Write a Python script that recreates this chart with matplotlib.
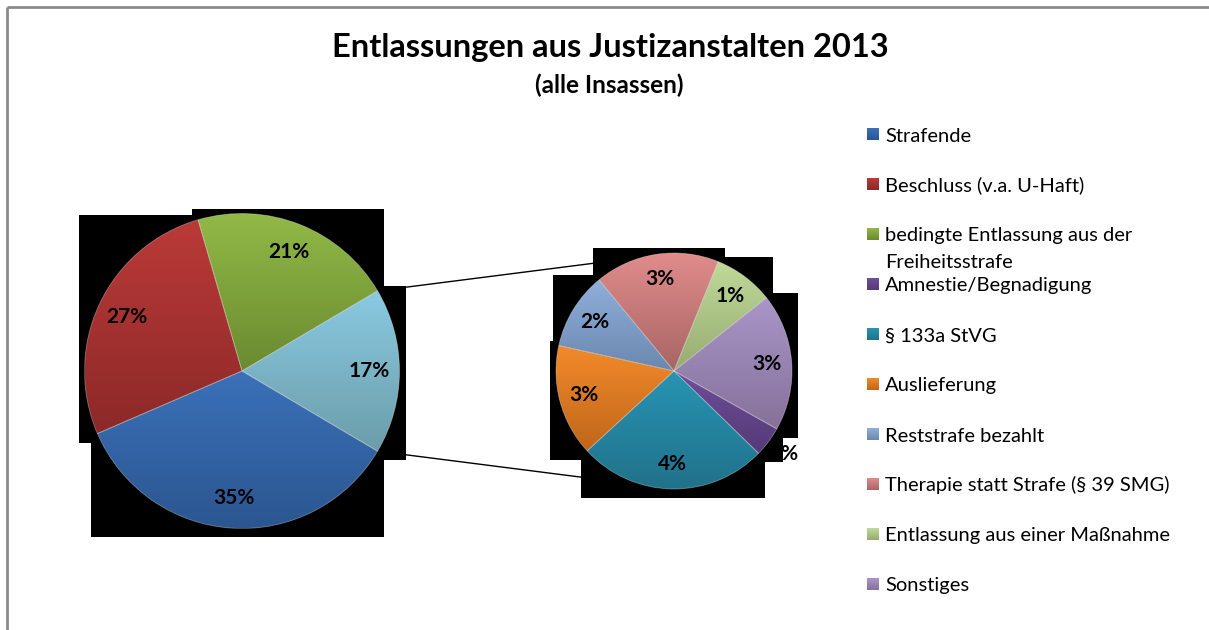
import numpy as np
import matplotlib
matplotlib.use("Agg")
import matplotlib.pyplot as plt
from matplotlib.patches import Rectangle
from matplotlib.colors import to_rgb

plt.rcParams['font.family'] = ['Lato', 'DejaVu Sans']

# ---- data -------------------------------------------------------------
main_labels = ["Strafende", "Beschluss (v.a. U-Haft)",
               "bedingte Entlassung aus der\nFreiheitsstrafe"]
main_values = [35, 27, 21]

sub_labels = ["Amnestie/Begnadigung", "§ 133a StVG", "Auslieferung",
              "Reststrafe bezahlt", "Therapie statt Strafe (§ 39 SMG)",
              "Entlassung aus einer Maßnahme", "Sonstiges"]
sub_values = [0.7, 4.4, 2.6, 1.8, 2.9, 1.4, 3.2]

title = "Entlassungen aus Justizanstalten 2013"
subtitle = "(alle Insassen)"

# ---- styling ----------------------------------------------------------
# (top colour, bottom colour) of the vertical gradient in each slice
main_grad = [("#3b71b9", "#2b5690"), ("#bb3a38", "#8b2928"),
             ("#92b947", "#6a8a30"), ("#8acae2", "#6b9da9")]
sub_grad = [("#6e4e99", "#553a78"), ("#2795b3", "#21718a"),
            ("#f28a2a", "#c0661a"), ("#8fb0dc", "#6b87ad"),
            ("#e08c8b", "#a76564"), ("#c0da98", "#97ab72"),
            ("#a996c8", "#86719a")]

W, H = 1209, 630
fig = plt.figure(figsize=(W / 100, H / 100), dpi=100)
ax = fig.add_axes([0, 0, 1, 1])


def py(y):
    """pixel row (from top) -> data y"""
    return H - y


main_c, main_r = (242, py(371)), 157.5
sub_c, sub_r = (674, py(371)), 118

other_value = sum(sub_values)
all_main = main_values + [other_value]
main_start = -other_value / sum(all_main) * 180.0
sub_start = 330.6

wedge_kw = dict(edgecolor=(1, 1, 1, 0.35), linewidth=0.6)
main_w, _ = ax.pie(all_main, center=main_c, radius=main_r,
                   startangle=main_start, counterclock=False,
                   colors=[g[0] for g in main_grad], wedgeprops=wedge_kw)
sub_w, _ = ax.pie(sub_values, center=sub_c, radius=sub_r,
                  startangle=sub_start, counterclock=False,
                  colors=[g[0] for g in sub_grad], wedgeprops=wedge_kw)


def gradient_fill(patch, top, bottom, z):
    ext = patch.get_path().get_extents(patch.get_patch_transform())
    t = np.linspace(0, 1, 256)[:, None, None]
    img = np.array(to_rgb(top))[None, None, :] * (1 - t) + \
        np.array(to_rgb(bottom))[None, None, :] * t
    im = ax.imshow(img, extent=(ext.x0, ext.x1, ext.y0, ext.y1),
                   origin='upper', aspect='auto', zorder=z,
                   interpolation='bilinear')
    im.set_clip_path(patch)


def shadow_box(patch, pad_l=6, pad_r=6.5, pad_t=5, pad_b=9):
    ext = patch.get_path().get_extents(patch.get_patch_transform())
    ax.add_patch(Rectangle((ext.x0 - pad_l, ext.y0 - pad_b),
                           ext.width + pad_l + pad_r,
                           ext.height + pad_t + pad_b,
                           facecolor='black', edgecolor='none', zorder=0.5))


for wedges, grads in ((main_w, main_grad), (sub_w, sub_grad)):
    for w, (top, bot) in zip(wedges, grads):
        shadow_box(w)
        gradient_fill(w, top, bot, 2)
        w.set_facecolor('none')
        w.set_zorder(3)

# connector lines from the split slice to the secondary pie
ow = main_w[-1]
for ang, ty in ((ow.theta1, sub_c[1] - sub_r), (ow.theta2, sub_c[1] + sub_r)):
    a = np.deg2rad(ang)
    x0 = main_c[0] + main_r * np.cos(a)
    y0 = main_c[1] + main_r * np.sin(a)
    ax.plot([x0, sub_c[0]], [y0, ty], color='black', lw=1.0, zorder=1)


# percentage labels
def label_wedges(wedges, values, total, center, r, inside=0.81, outside=1.17):
    for w, v in zip(wedges, values):
        mid = np.deg2rad((w.theta1 + w.theta2) / 2)
        span = abs(w.theta2 - w.theta1)
        d = inside if span > 20 else outside
        x = center[0] + d * r * np.cos(mid)
        y = center[1] + d * r * np.sin(mid)
        pct = round(v / total * 100)
        ax.text(x, y, f"{pct}%", ha='center', va='center',
                fontsize=15, fontweight='bold', color='black', zorder=5)


label_wedges(main_w, all_main, sum(all_main), main_c, main_r)
label_wedges(sub_w, sub_values, sum(all_main), sub_c, sub_r, inside=0.79)

# title
ax.text(610, py(47), title, ha='center', va='center', fontsize=23.5,
        fontweight='bold', color='black')
ax.text(609, py(85), subtitle, ha='center', va='center', fontsize=17.5,
        fontweight='bold', color='black')

# legend
leg_labels = main_labels + sub_labels
leg_grads = main_grad[:3] + sub_grad
for i, (lab, (top, bot)) in enumerate(zip(leg_labels, leg_grads)):
    yc = 134 + 50 * i
    sw = Rectangle((867, py(yc) - 6), 12, 12, facecolor='none',
                   edgecolor='none', zorder=3)
    ax.add_patch(sw)
    gradient_fill(sw, top, bot, 2)
    for j, line in enumerate(lab.split("\n")):
        ax.text(885, py(yc + 7.5 + 26 * j), line, ha='left', va='baseline',
                fontsize=14.5, color='black')

# chart frame (top and left edges visible)
ax.plot([7, W + 5], [py(7), py(7)], color='#8a8a8a', lw=2, zorder=6,
        solid_capstyle='butt')
ax.plot([7, 7], [py(7), -5], color='#8a8a8a', lw=2, zorder=6,
        solid_capstyle='butt')

ax.set_xlim(0, W)
ax.set_ylim(0, H)
ax.set_aspect('auto')
ax.axis('off')
fig.savefig("out.png", dpi=100, facecolor='white')
